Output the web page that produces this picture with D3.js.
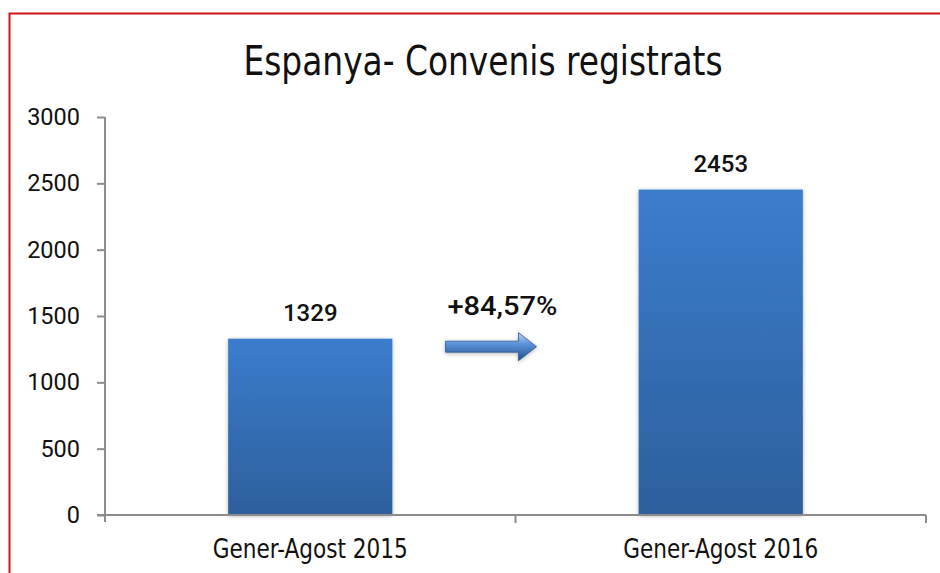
<!DOCTYPE html>
<html>
<head>
<meta charset="utf-8">
<script src="https://cdnjs.cloudflare.com/ajax/libs/d3/7.8.5/d3.min.js"></script>
<style>
  body { margin: 0; background: #fff; }
  svg { display: block; }
  .cond { font-family: "Liberation Sans Narrow", "DejaVu Sans Condensed", "Roboto Condensed", "Liberation Sans", sans-serif; font-stretch: condensed; }
</style>
</head>
<body>
<div id="chart"></div>
<script>
// data
var categories = ["Gener-Agost 2015", "Gener-Agost 2016"]
var values = [1329, 2453]
var yTicks = [0, 500, 1000, 1500, 2000, 2500, 3000]
var changeLabel = "+84,57%"
var title = "Espanya- Convenis registrats"

var svgWidth = 940
var svgHeight = 573

var margin = { top: 117, right: 14, bottom: 58, left: 105 }
var width = svgWidth - margin.left - margin.right
var height = svgHeight - margin.top - margin.bottom

var svg = d3.select("#chart")
  .append("svg")
  .attr("width", svgWidth)
  .attr("height", svgHeight)

var defs = svg.append("defs")

var barGrad = defs.append("linearGradient")
  .attr("id", "barGrad")
  .attr("x1", 0).attr("y1", 0).attr("x2", 0).attr("y2", 1)
barGrad.append("stop").attr("offset", "0%").attr("stop-color", "#3b7dcd")
barGrad.append("stop").attr("offset", "100%").attr("stop-color", "#2d5f9c")

var arrowGrad = defs.append("linearGradient")
  .attr("id", "arrowGrad")
  .attr("x1", 0).attr("y1", 0).attr("x2", 0).attr("y2", 1)
arrowGrad.append("stop").attr("offset", "0%").attr("stop-color", "#c2d8f4")
arrowGrad.append("stop").attr("offset", "40%").attr("stop-color", "#5b92d8")
arrowGrad.append("stop").attr("offset", "100%").attr("stop-color", "#24508c")

var shadow = defs.append("filter")
  .attr("id", "shadow")
  .attr("x", "-20%").attr("y", "-20%").attr("width", "140%").attr("height", "140%")
shadow.append("feDropShadow")
  .attr("dx", 0).attr("dy", 1)
  .attr("stdDeviation", 2)
  .attr("flood-color", "#000")
  .attr("flood-opacity", 0.3)

// red frame (top and left)
svg.append("path")
  .attr("d", "M9.5,573 L9.5,13.5 L940,13.5")
  .attr("fill", "none")
  .attr("stroke", "#d0141c")
  .attr("stroke-width", 2)

// title
svg.append("text")
  .attr("class", "cond")
  .attr("x", 483)
  .attr("y", 75)
  .attr("text-anchor", "middle")
  .attr("font-size", 40)
  .attr("textLength", 479)
  .attr("lengthAdjust", "spacingAndGlyphs")
  .attr("fill", "#111")
  .text(title)

var chartGroup = svg.append("g")
  .attr("transform", `translate(${margin.left}, ${margin.top})`)

// scales
var xScale = d3.scaleBand()
  .domain(categories)
  .range([0, width])
  .paddingInner(0.6)
  .paddingOuter(0.3)

var yScale = d3.scaleLinear()
  .domain([0, 3000])
  .range([height, 0])

// y axis
var leftAxis = d3.axisLeft(yScale)
  .tickValues(yTicks)
  .tickFormat(d3.format("d"))
  .tickSize(8)
  .tickPadding(17)

var yAxis = chartGroup.append("g")
  .call(leftAxis)
yAxis.select(".domain").remove()
yAxis.selectAll(".tick line").attr("stroke", "#8c8c8c").attr("stroke-width", 2)
yAxis.selectAll(".tick text")
  .attr("font-family", "Roboto, 'Liberation Sans', Arial, sans-serif")
  .attr("font-size", 23.5)
  .attr("fill", "#111")
yAxis.append("line")
  .attr("x1", 0).attr("x2", 0)
  .attr("y1", 0).attr("y2", height + 7)
  .attr("stroke", "#8c8c8c")
  .attr("stroke-width", 2)

// bars
var step = xScale.step()
chartGroup.selectAll(".bar")
  .data(values)
  .enter()
  .append("rect")
  .attr("class", "bar")
  .attr("x", (d, i) => xScale(categories[i]))
  .attr("y", d => yScale(d))
  .attr("width", xScale.bandwidth())
  .attr("height", d => height - yScale(d))
  .attr("fill", "url(#barGrad)")
  .attr("filter", "url(#shadow)")

// x axis
var xAxis = chartGroup.append("g")
  .attr("transform", `translate(0, ${height})`)
xAxis.append("line")
  .attr("x1", -8).attr("x2", width)
  .attr("y1", 0).attr("y2", 0)
  .attr("stroke", "#8c8c8c")
  .attr("stroke-width", 2)

// category separators
var bounds = categories.map(c => xScale(c) + xScale.bandwidth() / 2 + step / 2)
xAxis.selectAll(".sep")
  .data(bounds)
  .enter()
  .append("line")
  .attr("class", "sep")
  .attr("x1", d => d).attr("x2", d => d)
  .attr("y1", 0).attr("y2", 8)
  .attr("stroke", "#8c8c8c")
  .attr("stroke-width", 2)

xAxis.selectAll(".cat")
  .data(categories)
  .enter()
  .append("text")
  .attr("class", "cond")
  .attr("x", d => xScale(d) + xScale.bandwidth() / 2)
  .attr("y", 43)
  .attr("text-anchor", "middle")
  .attr("font-size", 27)
  .attr("textLength", 195)
  .attr("lengthAdjust", "spacingAndGlyphs")
  .attr("fill", "#111")
  .text(d => d)

// value labels
chartGroup.selectAll(".val")
  .data(values)
  .enter()
  .append("text")
  .attr("class", "val")
  .attr("x", (d, i) => xScale(categories[i]) + xScale.bandwidth() / 2)
  .attr("y", d => yScale(d) - 18)
  .attr("text-anchor", "middle")
  .attr("font-family", "Roboto, 'Liberation Sans', Arial, sans-serif")
  .attr("font-weight", 500)
  .attr("font-size", 24)
  .attr("fill", "#111")
  .text(d => d)

// change annotation with arrow, placed between the bars
var barRight = xScale(categories[0]) + xScale.bandwidth()
var barLeft = xScale(categories[1])
var midX = (barRight + barLeft) / 2
var arrowY = yScale(values[0]) + 8

chartGroup.append("text")
  .attr("x", midX - 13)
  .attr("y", arrowY - 32)
  .attr("text-anchor", "middle")
  .attr("font-family", "Roboto, 'Liberation Sans', Arial, sans-serif")
  .attr("font-weight", 500)
  .attr("font-size", 25)
  .attr("textLength", 110)
  .attr("lengthAdjust", "spacingAndGlyphs")
  .attr("fill", "#111")
  .text(changeLabel)

var ax0 = midX - 70, ax1 = midX + 3, ax2 = midX + 21
var arrowPath = [
  [ax0, arrowY - 5.5], [ax1, arrowY - 5.5], [ax1, arrowY - 14],
  [ax2, arrowY], [ax1, arrowY + 14], [ax1, arrowY + 5.5], [ax0, arrowY + 5.5]
]
chartGroup.append("path")
  .attr("d", d3.line()(arrowPath) + "Z")
  .attr("fill", "url(#arrowGrad)")
  .attr("stroke", "#2a5896")
  .attr("stroke-width", 0.8)
  .attr("filter", "url(#shadow)")
</script>
</body>
</html>
